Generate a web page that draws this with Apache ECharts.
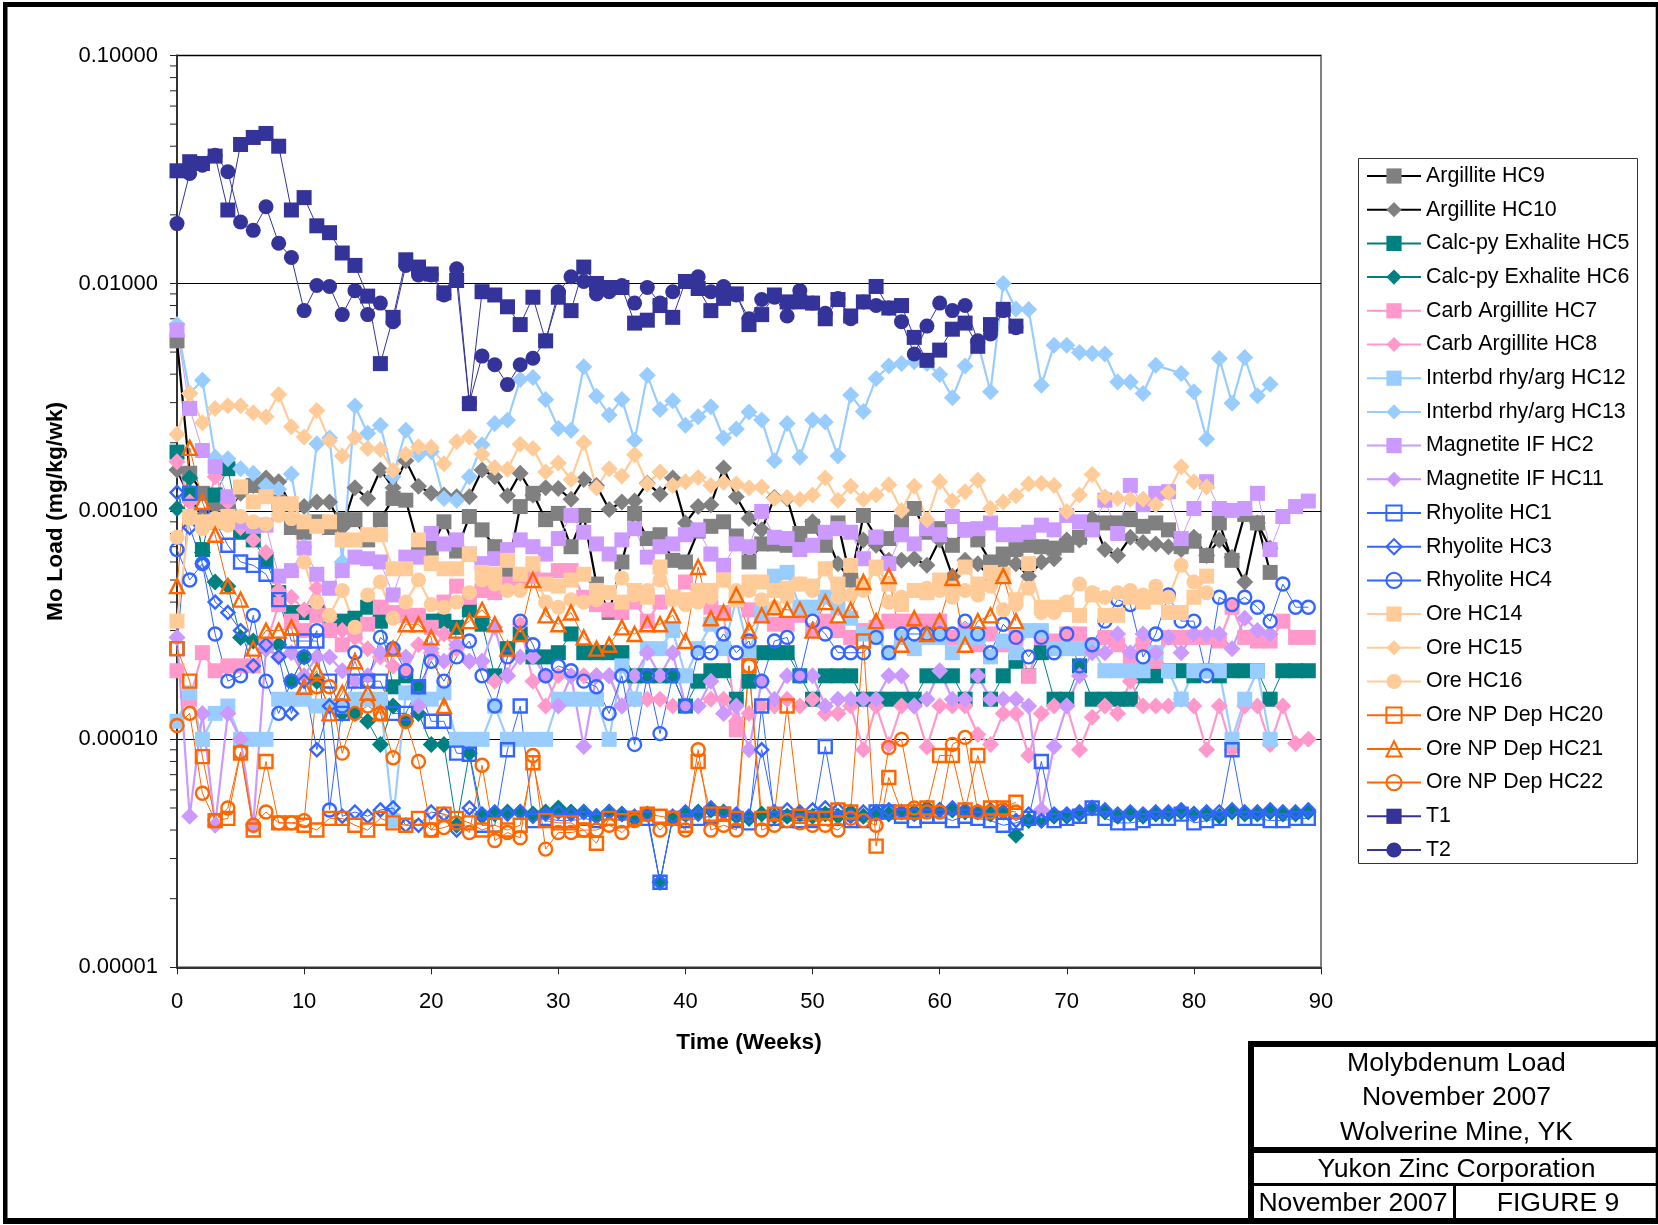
<!DOCTYPE html>
<html><head><meta charset="utf-8">
<style>html,body{margin:0;padding:0;background:#fff}#c{width:1658px;height:1225px}</style>
<script src="https://cdn.jsdelivr.net/npm/echarts@6/dist/echarts.min.js"></script>
</head><body><div id="c"></div>
<script>
const xTicks = [0,10,20,30,40,50,60,70,80,90];
const legendOrder = ['Argillite HC9','Argillite HC10','Calc-py Exhalite HC5','Calc-py Exhalite HC6','Carb Argillite HC7','Carb Argillite HC8','Interbd rhy/arg HC12','Interbd rhy/arg HC13','Magnetite IF HC2','Magnetite IF HC11','Rhyolite HC1','Rhyolite HC3','Rhyolite HC4','Ore HC14','Ore HC15','Ore HC16','Ore NP Dep HC20','Ore NP Dep HC21','Ore NP Dep HC22','T1','T2'];
const minorTickValues = [2e-5,3e-5,4e-5,5e-5,6e-5,7e-5,8e-5,9e-5,2e-4,3e-4,4e-4,5e-4,6e-4,7e-4,8e-4,9e-4,2e-3,3e-3,4e-3,5e-3,6e-3,7e-3,8e-3,9e-3,2e-2,3e-2,4e-2,5e-2,6e-2,7e-2,8e-2,9e-2];

const hc9 = [.0056,.00147,.0012,.0011,.0010,.00125,.0013,.00125,.0011,.00085,
.00081,.0009,.00085,.00092,.00092,.00075,.00092,.00114,.00112,.0007,
.00069,.0009,.00067,.00095,.00083,.0007,.00055,.00105,.0012,.00092,
.00098,.0007,.00096,.00048,.00036,.0006,.00098,.00076,.00079,.00061,
.0006,.00082,.00086,.0009,.00078,.0006,.00072,.00072,.00071,.0008,
.00086,.00071,.00089,.0005,.00096,.00077,.00076,.0009,.00103,.00081,
.00084,.00071,.00083,.00075,.0006,.00065,.00068,.00071,.0007,.00069,
.00071,.00077,.00087,.00089,.00089,.00092,.00086,.00089,.00083,.0007,
.00074,.00064,.00089,.00061,.00097,.00089,.00054];
const hc10 = [.00152,.00115,.00095,.00105,.001,.0012,.0013,.0014,.00135,.00105,
.00105,.0011,.0011,.00085,.00127,.00114,.00152,.00127,.00167,.00129,
.0012,.00118,.00116,.00116,.00152,.00142,.00117,.00147,.00118,.00127,
.00126,.00113,.00138,.0013,.00102,.0011,.00111,.00133,.00119,.0014,
.00089,.00105,.00107,.00155,.00116,.00093,.00083,.00115,.00114,.00074,
.0009,.0008,.00059,.0005,.00075,.00071,.00061,.00061,.00062,.00058,
.00075,.00052,.00061,.00059,.00051,.0006,.00059,.00052,.0006,.00062,
.00075,.00075,.00093,.00068,.00064,.00077,.00073,.00072,.0007,.00068,
.00077,.00064,.00075,.00063,.00049,.00089,.00069];
const hc5 = [.00182,.0012,.00068,.00118,.00154,.00081,.00075,.00061,.00044,.00036,
.00036,.00036,.00033,.00033,.00034,.00038,.00033,.00017,.00019,.00017,
.00033,.00033,.00031,.00037,.00032,.00019,.00025,.00029,.00023,.00023,
.00024,.00029,.00024,.00024,.00024,.00024,.00019,.00019,.00019,.00019,
.00014,.00018,.0002,.0002,.00015,.00018,.00024,.00024,.00024,.00019,
.00015,.00019,.00019,.00019,.00015,.00015,.00015,.00015,.00015,.00019,
.00019,.00019,.00015,.00019,.00015,.00019,.00022,.00019,.00024,.00015,
.00015,.00021,.00015,.00015,.00015,.00015,.00019,.00019,.0002,.0002,
.00019,.0002,.00019,.0002,.0002,.0002,.00015,.0002,.0002,.0002];
const hc6 = [.00103,.0014,.00066,.00049,.00047,.00028,.00027,.00025,.00026,.00018,
.00023,.00018,.00014,.00013,.00013,.00012,.000095,.00014,.00012,.00013,
.000095,.000095,.000042,.000087,.000046,.000047,.000048,.000048,.000047,.000048,
.00005,.000048,.000048,.000046,.000048,.000047,.000045,.000047,.0000236,.000045,
.000047,.000048,.000049,.000048,.000046,.000045,.000047,.000046,.000046,.000047,
.000046,.000047,.000046,.000048,.000046,.000048,.000047,.000048,.000048,.00005,
.000049,.000049,.000048,.000048,.000047,.000048,.000038,.000044,.000044,.000046,
.000046,.000047,.00005,.000048,.000046,.000047,.000046,.000047,.000047,.000048,
.000047,.000047,.000046,.000048,.000047,.000047,.000048,.000047,.000047,.000048];
const hc7 = [.0002,.00015,.00024,.0002,.00021,.00021,.00021,.00026,.00039,.00033,
.0003,.00035,.0003,.00026,.00029,.00032,.00038,.00036,.00035,.00035,
.00031,.0004,.00047,.00042,.00045,.00044,.00048,.0005,.00052,.0005,
.00055,.00055,.00042,.00039,.00037,.00036,.0004,.00033,.0004,.00042,
.00049,.00041,.00038,.00036,.00011,.00037,.00035,.00032,.00032,.00035,
.0003,.00033,.0003,.00028,.0003,.00031,.00033,.00033,.00033,.00033,
.00033,.00028,.0003,.00026,.00029,.00026,.00028,.00019,.00028,.00027,
.00029,.00029,.00026,.00028,.00026,.00023,.00026,.00022,.00028,.00028,
.00028,.00028,.00027,.00038,.00028,.00027,.00027,.00033,.00028,.00028];
const hc8 = [.00165,.0011,.0009,.00142,.0011,.00085,.00075,.00066,.00045,.00042,
.00037,.00046,.00034,.0003,.00028,.00025,.00023,.00021,.0002,.00026,
.00024,.00029,.00025,.00022,.00022,.00018,.00019,.00032,.00018,.00014,
.00019,.00019,.00019,.00019,.00019,.00014,.00015,.00015,.00015,.00014,
.00014,.00014,.00015,.00015,.00012,.00013,.00014,.00014,.00015,.00014,
.00015,.00013,.00013,.00014,.00009,.00014,.000095,.00014,.00014,.0000925,
.00014,.00014,.00014,.000105,.000095,.00013,.00013,.000085,.00013,.00014,
.00014,.00009,.000125,.00014,.00013,.00018,.00014,.00014,.00014,.00015,
.00014,.00009,.00014,.00009,.00014,.00014,.000095,.00014,.000096,.0001];
const hc12 = [.00012,.00016,.0001,.00013,.00014,.0001,.0001,.0001,.00015,.00015,
.00015,.00014,.00014,.00014,.00015,.00015,.00015,.000044,.00016,.00015,
.00015,.00016,.0001,.0001,.0001,.00014,.0001,.0001,.0001,.0001,
.00015,.00015,.00015,.00015,.0001,.00021,.00015,.00025,.00025,.0003,
.00019,.00025,.00032,.00025,.00041,.00024,.00036,.00052,.00054,.00038,
.00038,.00042,.00038,.00034,.00029,.00028,.00024,.00028,.00025,.00028,
.00028,.00024,.00028,.00028,.00023,.00027,.00024,.0003,.0003,.00025,
.00025,.00025,.00025,.0002,.0002,.0002,.0002,.00024,.0002,.00015,
.0002,.0002,.0002,.0001,.00015,.0002,.0001];
const hc13 = [.0066,.0033,.00376,.00173,.0017,.00154,.00147,.0013,.00125,.00146,
.0007,.00198,.0021,.0006,.0029,.0022,.00239,.00142,.00227,.00177,
.00183,.00114,.00112,.00142,.00196,.00243,.00251,.00379,.00387,.0031,
.00231,.00227,.00431,.0032,.00265,.0031,.00205,.00396,.0028,.00306,
.00239,.0026,.00288,.0021,.0023,.00273,.00252,.00167,.00243,.00173,
.00252,.00247,.00175,.00324,.00274,.00383,.00434,.00446,.00453,.00446,
.00399,.00315,.00434,.0055,.00335,.01,.00772,.00769,.00358,.00536,
.00536,.00498,.00493,.0049,.0037,.0037,.00329,.00438,null,.00403,
.00335,.00208,.00469,.00298,.00473,.00322,.00361];
const hc2 = [.00624,.00283,.00185,.00157,.00116,.0009,.00086,.00087,.00052,.00055,
.00069,.00053,.00046,.00055,.00063,.00062,.0006,.00043,.00063,.00063,
.0008,.00072,.00075,.00065,.00059,.00062,.00068,.00075,.0007,.00065,
.00076,.00096,.00081,.00072,.00065,.00075,.00084,.00063,.0007,.00072,
.00079,.00083,.00065,.00058,.00072,.0007,.001,.00077,.00076,.00068,
.00071,.00081,.00084,.00081,.00062,.00077,.00059,.00079,.00072,.00084,
.00079,.00095,.00083,.00084,.00089,.00079,.00079,.00081,.00087,.00083,
.00096,.0009,.00083,.00112,.0008,.0013,.00107,.0012,.00122,.00076,
.00103,.00135,.00103,.00101,.00103,.0012,.00068,.00095,.00105,.00111];
const hc11 = [.00028,.000046,.00013,.000042,.00013,.0001,.000042,.00025,.00023,.00024,
.00019,.00023,.00023,.0002,.00018,.00019,.00024,.00025,.00023,.00014,
.00025,.00022,.00026,.00022,.00022,.00031,.00019,.00023,.00023,.00019,
.00014,.00019,.000093,.00019,.00019,.00014,.00019,.00024,.00019,.00024,
.00014,.00014,.00018,.00013,.00014,.00009,.00018,.00015,.00019,.00019,
.00019,.00014,.00015,.00015,.00015,.00015,.00019,.00019,.00014,.00015,
.0002,.00015,.00015,.00019,.00015,.00015,.00015,.00014,.000049,.000093,
.00014,.00019,.00024,.00024,.00029,.00024,.00029,.00024,.00028,.00024,
.00029,.00029,.00029,.00025,.00034,.0003,.00029];
const hc1 = [.00025,.0012,.00095,.0009,.00071,.0006,.00058,.00053,.00041,.00027,
.00027,.00027,.00018,.00013,.00018,.00018,.00018,.00013,.00013,.00017,
.00012,.00012,.000087,.000086,.000042,.000042,.00009,.00014,.000044,.000045,
.000044,.000044,.000045,.000044,.000045,.000044,.000045,.000045,.0000236,.000045,
.000044,.000045,.000046,.000047,.000044,.000043,.00014,.000045,.000044,.000044,
.000044,.000093,.000045,.000044,.000044,.000048,.000048,.000046,.000044,.000046,
.000046,.000044,.000046,.000045,.000044,.000042,.000043,.000045,.00008,.000044,
.000045,.000046,.00005,.000045,.000043,.000043,.000044,.000045,.000045,.000047,
.000043,.000044,.000045,.00009,.000045,.000045,.000044,.000044,.000045,.000045];
const hc3 = [.00121,.00085,.00059,.0004,.00036,.0003,.00021,.00026,.00023,.00013,
.00018,.00009,.00014,.000046,.000048,.000046,.000049,.00005,.000042,.000042,
.000048,.000047,.00004,.00005,.000047,.000048,.000047,.000048,.000046,.000047,
.000048,.000047,.000048,.000046,.000048,.000047,.000046,.000047,.0000236,.000046,
.000048,.000047,.00005,.000048,.000047,.000046,.00009,.000048,.000049,.000048,
.000049,.00005,.000049,.000046,.000048,.000047,.000049,.000048,.000047,.000049,
.000049,.00005,.000049,.000048,.000049,.000048,.000044,.000047,.000044,.000047,
.000047,.000048,.00005,.000049,.000047,.000048,.000047,.000048,.000048,.000049,
.000047,.000048,.000048,.000049,.000048,.000048,.000049,.000048,.000048,.000049];
const hc4 = [.00068,.0005,.00059,.00029,.00018,.00019,.00035,.00018,.00013,.00018,
.00023,.0003,.000049,.00014,.00024,.00018,.00028,.00025,.0002,.00017,
.00022,.00018,.00023,.00027,.00019,.00014,.00023,.00033,.00026,.00019,
.00021,.0002,.00018,.00017,.00013,.00019,.000095,.00019,.000106,.00019,
.00014,.00024,.00024,.00029,.00024,.00027,.00018,.00027,.00028,.00019,
.00033,.00029,.00024,.00024,.00024,.00028,.00024,.00029,.00029,.00029,
.00029,.00029,.00033,.00029,.00024,.00032,.00028,.00023,.00028,.00024,
.00029,.00021,.00026,.00033,.00041,.00039,.00023,.00029,.00043,.00033,
.00033,.00019,.00042,.00039,.00042,.00038,.00033,.00048,.00038,.00038];
const hc14 = [.00033,.00095,.0009,.0009,.00095,.00128,.0011,.00116,.00108,.00108,
.0009,.00086,.0009,.00075,.00075,.00079,.00079,.00056,.00056,.00075,
.00059,.00056,.00056,.00065,.00054,.00053,.00061,.00053,.00059,.00048,
.00047,.0005,.00053,.00045,.00044,.0004,.00045,.00042,.00057,.00042,
.00041,.00045,.00045,.0005,.00041,.00049,.00049,.00045,.00046,.00048,
.00047,.00056,.00048,.00058,.00047,.00057,.00048,.00039,.00045,.00044,
.0005,.00046,.00057,.00048,.00054,.00053,.00041,.00059,.00038,.00038,
.00039,.00035,.00043,.00035,.00035,.00042,.0004,.00042,.00036,.00036,
.00042,.00052];
const hc15 = [.00218,.00329,.00245,.00283,.00291,.00291,.00271,.0026,.00326,.00235,
.00212,.00277,.00204,.00175,.00211,.00189,.00187,.00151,.00178,.00192,
.00191,.00162,.00202,.00212,.00178,.00156,.00153,.00197,.00189,.00149,
.00163,.00138,.002,.00127,.00154,.00143,.00177,.00132,.00149,.0013,
.00135,.00141,.0013,.00134,.00132,.00127,.00128,.00114,.00115,.00113,
.00118,.0014,.00112,.00129,.00113,.00118,.00131,.00101,.00129,.00092,
.00135,.00111,.00122,.00137,.00103,.0011,.00117,.00132,.00133,.0013,
.001,.00118,.00145,.00116,.00114,.00113,.00113,.00107,.00121,.00157,
.00135,.00128];
const hc16 = [.00077,.00093,.00084,.00093,.00087,.00095,.0009,.00088,.00096,.00093,
.0006,.0004,.00035,.00045,.00031,.00043,.00049,.00034,.0004,.0005,
.00039,.00038,.0004,.00044,.0005,.00048,.00045,.00045,.00058,.0004,
.00038,.00041,.0004,.00041,.00044,.00051,.00043,.00045,.0005,.00041,
.00039,.0004,.00042,.0005,.00045,.00045,.00041,.00038,.00042,.00048,
.00045,.00056,.00042,.00043,.00045,.00056,.0004,.00042,.00045,.00046,
.00045,.00042,.00045,.00043,.00047,.00037,.00039,.00046,.00036,.00036,
.0004,.00048,.00044,.00042,.00044,.00045,.00043,.00047,.00042,.00058,
.00049,.00044];
const hc20 = [.00025,.00018,.000084,.000044,.000045,.000087,.00004,.00008,.000043,.000043,
.000042,.00004,.000045,.000045,.000042,.00004,.000045,.000043,.000042,.000045,
.00004,.000047,.000045,.000043,.00004,.000042,.00004,.000042,.000079,.000044,
.000043,.000043,.00004,.000035,.000045,.000044,.000045,.000047,.000046,.000045,
.000042,.00008,.000047,.000047,.000045,.00021,.000045,.000047,.00014,.000046,
.000045,.000045,.000049,.000048,.00027,.000034,.000068,.000048,.000048,.00005,
.000085,.000085,.000049,.000085,.00005,.00005,.000053];
const hc21 = [.00047,.0019,.0011,.00079,.00047,.00041,.00025,.0003,.0003,.00031,
.00017,.0002,.00013,.00016,.00022,.00016,.00013,.00025,.00032,.00032,
.00028,.00014,.0003,.00033,.00037,.00032,.00025,.00029,.0005,.00035,
.00032,.00036,.00028,.00025,.00026,.00031,.00029,.00032,.00032,.00035,
.00027,.00057,.00034,.00036,.00043,.0003,.00035,.00038,.00037,.00037,
.0003,.0004,.00035,.00037,.00049,.00033,.00052,.00026,.00034,.00029,
.00033,.00051,.00026,.00033,.00035,.00052,.00033];
const hc22 = [.000115,.00013,.000058,.000044,.00005,.000088,.000042,.000048,.000043,.000043,
.000044,.00017,.00017,.000087,.00013,.00014,.00013,.000083,.00012,.00008,
.00004,.000041,.000043,.000039,.000077,.000036,.000039,.000037,.000085,.000033,
.000039,.000039,.00004,.00004,.000042,.000039,.000044,.000047,.00004,.000045,
.00004,.00009,.00004,.000042,.00004,.00021,.00004,.000042,.000044,.000043,
.000042,.000042,.00004,.000045,.000044,.000042,.000092,.0001,.00005,.000048,
.000048,.000095,.000102,.000048,.000048,.000049,.000048];
const t1 = [.0312,.0342,.0336,.0362,.021,.0407,.0437,.0455,.04,.021,
.0238,.0179,.0167,.0136,.012,.0088,.00445,.0071,.0127,.0118,
.011,.0091,.0103,.00297,.0092,.0089,.0079,.0066,.0087,.0056,
.0087,.0076,.0118,.01,.0096,.0096,.0067,.0069,.008,.0071,
.0102,.0095,.0076,.0086,.009,.0066,.0073,.0089,.0083,.0083,
.0082,.007,.0085,.0072,.0083,.0097,.0078,.008,.0058,.0046,
.0051,.0063,.0067,.0053,.0066,.0077,.0065];
const t2 = [.0183,.0304,.033,.0365,.0309,.0186,.0171,.0217,.015,.013,
.0076,.0098,.0097,.0073,.0093,.0073,.0082,.0068,.012,.0109,
.0109,.0089,.0116,.003,.0048,.0044,.0036,.0044,.0047,.0056,
.0092,.0107,.0102,.009,.0092,.0098,.0082,.0096,.0082,.0092,
.0102,.0107,.0092,.0097,.0089,.007,.0085,.0087,.0072,.0093,
.0082,.0074,.0086,.007,.0083,.008,.0078,.0068,.0049,.0065,
.0082,.0076,.008,.0056,.006,.0076,.0064];

const GRAY='#808080',TEAL='#008080',PINK='#FF99CC',LBLUE='#99CCFF',PURP='#CC99FF',BLUE='#3366FF',LORG='#FFCC99',ORG='#FF6600',NAVY='#333399';
function mk(name, arr, symbol, color, lineColor, lw, hollow){
  const sz = hollow ? (symbol==='triangle'?14:13) : (symbol==='diamond'?17:15);
  return {
    type:'line', name, symbol, symbolSize:sz, clip:false, showAllSymbol:true,
    data: arr.map((v,i)=>[i,v]).filter(p=>p[1]!==null),
    lineStyle:{color:lineColor,width:lw},
    itemStyle: hollow ? {color:'rgba(255,255,255,0)',borderColor:color,borderWidth:2.4,opacity:1} : {color,borderWidth:0},
    emphasis:{disabled:true}
  };
}
const tickSeries = {
  type:'custom', name:'ticks', silent:true, clip:false, data:minorTickValues.map(v=>[0,v]),
  renderItem:(p,api)=>{const c=api.coord([0,api.value(1)]);
    return {type:'line',shape:{x1:c[0]-7,y1:c[1],x2:c[0],y2:c[1]},style:{stroke:'#222',lineWidth:1}};}
};
const series = [
  tickSeries,
  mk('Argillite HC9',hc9,'rect',GRAY,'#000',2.2,false),
  mk('Argillite HC10',hc10,'diamond',GRAY,'#000',2.2,false),
  mk('Calc-py Exhalite HC5',hc5,'rect',TEAL,TEAL,1,false),
  mk('Calc-py Exhalite HC6',hc6,'diamond',TEAL,TEAL,1,false),
  mk('Carb Argillite HC7',hc7,'rect',PINK,PINK,2.2,false),
  mk('Carb Argillite HC8',hc8,'diamond',PINK,PINK,2.2,false),
  mk('Interbd rhy/arg HC12',hc12,'rect',LBLUE,LBLUE,2.2,false),
  mk('Interbd rhy/arg HC13',hc13,'diamond',LBLUE,LBLUE,2.2,false),
  mk('Magnetite IF HC2',hc2,'rect',PURP,PURP,1,false),
  mk('Magnetite IF HC11',hc11,'diamond',PURP,PURP,2.2,false),
  mk('Rhyolite HC1',hc1,'rect',BLUE,BLUE,1,true),
  mk('Rhyolite HC3',hc3,'diamond',BLUE,BLUE,1,true),
  mk('Rhyolite HC4',hc4,'circle',BLUE,BLUE,1,true),
  mk('Ore HC14',hc14,'rect',LORG,LORG,2.2,false),
  mk('Ore HC15',hc15,'diamond',LORG,LORG,2.2,false),
  mk('Ore HC16',hc16,'circle',LORG,LORG,2.2,false),
  mk('Ore NP Dep HC20',hc20,'rect',ORG,ORG,1,true),
  mk('Ore NP Dep HC21',hc21,'triangle',ORG,ORG,1,true),
  mk('Ore NP Dep HC22',hc22,'circle',ORG,ORG,1,true),
  mk('T2',t2,'circle',NAVY,NAVY,1,false),
  mk('T1',t1,'rect',NAVY,NAVY,1,false)
];
const FF='"Liberation Sans",Arial,sans-serif';
function bar(x,y,w,h){return {type:'rect',shape:{x,y,width:w,height:h},style:{fill:'#000'},z:10};}
function txt(text,x,y){return {type:'text',x,y,style:{text,fontSize:26.6,fontFamily:FF,fill:'#000',align:'center',verticalAlign:'middle'},z:10};}
const chart = echarts.init(document.getElementById('c'),null,{renderer:'canvas',width:1658,height:1225});
chart.setOption({
  animation:false, backgroundColor:'#fff',
  grid:{left:177,right:337,top:55.5,bottom:257.7,show:true,borderColor:'#808080',borderWidth:2,backgroundColor:'#fff'},
  xAxis:{type:'value',min:0,max:90,interval:10,
    name:'Time (Weeks)',nameLocation:'middle',nameGap:64,
    nameTextStyle:{fontSize:22.7,fontWeight:'bold',fontFamily:FF,color:'#000'},
    axisLine:{show:true,onZero:false,lineStyle:{color:'#333',width:2}},
    axisTick:{show:true,length:7,lineStyle:{color:'#222',width:1}},
    axisLabel:{fontSize:22,fontFamily:FF,color:'#000',margin:24,formatter:v=>xTicks.includes(v)?String(v):''},
    splitLine:{show:false}},
  yAxis:{type:'log',logBase:10,min:0.00001,max:0.1,
    name:'Mo Load (mg/kg/wk)',nameLocation:'middle',nameGap:110,nameRotate:90,
    nameTextStyle:{fontSize:22.8,fontWeight:'bold',fontFamily:FF,color:'#000'},
    axisLine:{show:true,lineStyle:{color:'#333',width:2}},
    axisTick:{show:true,length:7,lineStyle:{color:'#222',width:1}},
    axisLabel:{fontSize:22,fontFamily:FF,color:'#000',margin:19,formatter:v=>Number(v).toFixed(5)},
    splitLine:{show:true,lineStyle:{color:'#000',width:1}}},
  legend:{orient:'vertical',left:1366,top:165.5,padding:0,itemWidth:54,itemHeight:19,itemGap:12.7,
    data:legendOrder,selectedMode:false,
    textStyle:{fontSize:21.4,fontFamily:FF,color:'#000',padding:[0,0,0,0]}},
  tooltip:{show:false},
  graphic:[
    {type:'rect',shape:{x:1358.5,y:158.5,width:279,height:705},style:{fill:'#fff',stroke:'#333',lineWidth:1},z:-1},
    bar(3,2,1655,5),bar(3,2,4.5,1222),bar(3,1218,1655,6),bar(1655.7,2,2.3,1222),
    bar(1248,1041,410,6),bar(1248,1041,6,180),bar(1248,1147,410,6),bar(1254,1183,404,3),bar(1453,1184,3,36),
    txt('Molybdenum Load',1456.5,1063.5),txt('November 2007',1456.5,1098),txt('Wolverine Mine, YK',1456.5,1133),
    txt('Yukon Zinc Corporation',1456.5,1170),txt('November 2007',1353,1204),txt('FIGURE 9',1558,1204)
  ],
  series
});
</script></body></html>
